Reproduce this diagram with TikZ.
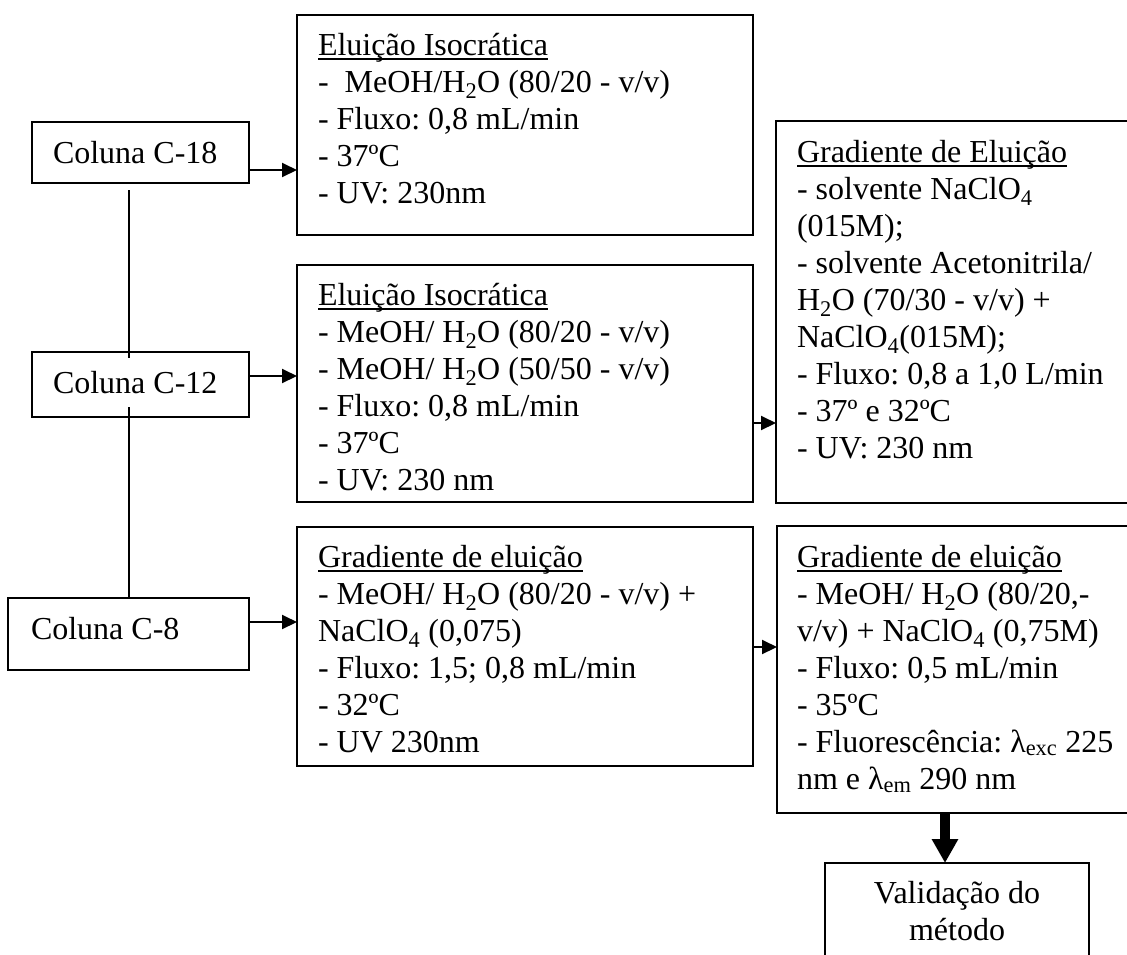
\documentclass[tikz,border=0pt]{standalone}
\usepackage{fontspec}
\setmainfont{Liberation Serif}
\usetikzlibrary{arrows.meta}
\frenchspacing
% underlined heading with a fixed rule below the baseline
\newcommand\uln[1]{\setbox0\hbox{#1}\rlap{\rule[-5pt]{\wd0}{1.8pt}}\box0}
\newcommand\sbs[1]{\textsubscript{#1}}
% strut fixing the height of the first line of a text block
\newcommand\fst{\rule{0pt}{30pt}}
% text face for every label, with a fixed line pitch
\newcommand\boxfont{\fontsize{32}{37}\selectfont\lineskiplimit=-100pt\relax}
\begin{document}
\begin{tikzpicture}[x=1pt,y=-1pt,
  box/.style={draw, line width=2.2pt, inner sep=0pt, outer sep=0pt, anchor=north west},
  txt/.style={inner sep=0pt, outer sep=0pt, anchor=north west, align=left, font=\boxfont},
  lbl/.style={inner sep=0pt, outer sep=0pt, anchor=base west, font=\boxfont},
  conn/.style={line width=2pt},
  arr/.style={line width=2pt, -{Triangle[length=15pt,width=14pt]}},
  bigarr/.style={line width=10pt, -{Triangle[length=24pt,width=25pt]}},
]
\path[use as bounding box, clip] (0,0) rectangle (1127,954);
\fill[white] (0,0) rectangle (1127,954);

% columns
\node[box, minimum width=217pt, minimum height=61pt] (c18) at (32,122) {};
\node[lbl] (c18t) at (53,163) {Coluna C-18};
\node[box, minimum width=217pt, minimum height=65pt] (c12) at (32,352) {};
\node[lbl] (c12t) at (53,393) {Coluna C-12};
\node[box, minimum width=241pt, minimum height=72pt] (c8) at (8,598) {};
\node[lbl] (c8t) at (31,639) {Coluna C-8};

% middle column of conditions
\node[box, minimum width=456pt, minimum height=220pt] (iso1) at (297,15) {};
\node[txt] (iso1t) at (318,25) {\fst\uln{Eluição Isocrática}\\
-\ \ MeOH/H\sbs{2}O (80/20 - v/v)\\
- Fluxo: 0,8 mL/min\\
- 37ºC\\
- UV: 230nm};

\node[box, minimum width=456pt, minimum height=237pt] (iso2) at (297,265) {};
\node[txt] (iso2t) at (318,275) {\fst\uln{Eluição Isocrática}\\
- MeOH/ H\sbs{2}O (80/20 - v/v)\\
- MeOH/ H\sbs{2}O (50/50 - v/v)\\
- Fluxo: 0,8 mL/min\\
- 37ºC\\
- UV: 230 nm};

\node[box, minimum width=456pt, minimum height=239pt] (grd1) at (297,527) {};
\node[txt] (grd1t) at (318,537) {\fst\uln{Gradiente de eluição}\\
- MeOH/ H\sbs{2}O (80/20 - v/v) +\\
NaClO\sbs{4} (0,075)\\
- Fluxo: 1,5; 0,8 mL/min\\
- 32ºC\\
- UV 230nm};

% right column
\node[box, minimum width=370pt, minimum height=382pt] (grdA) at (776,121) {};
\node[txt] (grdAt) at (797,132) {\fst\uln{Gradiente de Eluição}\\
- solvente NaClO\sbs{4}\\
(015M);\\
- solvente Acetonitrila/\\
H\sbs{2}O (70/30 - v/v) +\\
NaClO\sbs{4}(015M);\\
- Fluxo: 0,8 a 1,0 L/min\\
- 37º e 32ºC\\
- UV: 230 nm};

\node[box, minimum width=370pt, minimum height=287pt] (grdB) at (777,526) {};
\node[txt] (grdBt) at (797,537) {\fst\uln{Gradiente de eluição}\\
- MeOH/ H\sbs{2}O (80/20,-\\
v/v) + NaClO\sbs{4} (0,75M)\\
- Fluxo: 0,5 mL/min\\
- 35ºC\\
- Fluorescência: λ\sbs{exc} 225\\
nm e λ\sbs{em} 290 nm};

\node[box, minimum width=264pt, minimum height=130pt] (val) at (825,863) {};
\node[txt, anchor=north, align=center] (valt) at (957,873) {\fst Validação do\\ método};

% connector levels
\coordinate (vl) at (129,0);
\coordinate (y1) at (0,170);
\coordinate (y2) at (0,376);
\coordinate (y3) at (0,622);
\coordinate (y4) at (0,423);
\coordinate (y5) at (0,647);
\coordinate (xv) at (945,0);

\draw[conn] (c18.south -| vl) ++(0,7) -- (c12.north -| vl) -- ++(0,6);
\draw[conn] (c12.south -| vl) ++(0,-10) -- (c8.north -| vl);

\draw[arr] (c18.east |- y1) -- (iso1.west |- y1);
\draw[arr] (c12.east |- y2) -- (iso2.west |- y2);
\draw[arr] (c8.east |- y3) -- (grd1.west |- y3);
\draw[arr] (iso2.east |- y4) -- (grdA.west |- y4);
\draw[arr] (grd1.east |- y5) -- (grdB.west |- y5);
\draw[bigarr] (grdB.south -| xv) -- (val.north -| xv);
\end{tikzpicture}
\end{document}
